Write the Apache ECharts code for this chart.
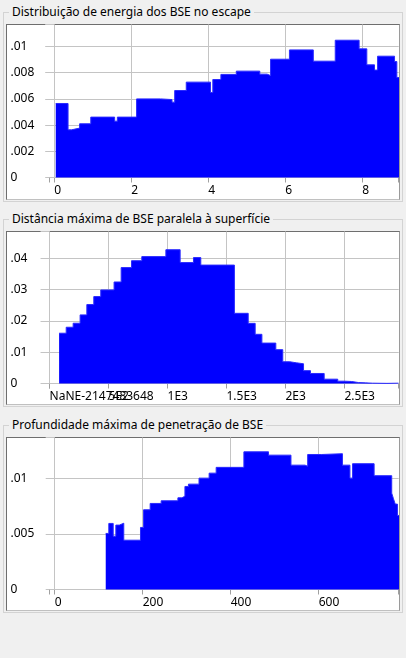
<!DOCTYPE html>
<html>
<head>
<meta charset="utf-8">
<script src="https://cdn.jsdelivr.net/npm/echarts@6/dist/echarts.min.js"></script>
<style>
  html, body { margin: 0; padding: 0; background: #f0f0f0; }
  #wrap { position: relative; width: 406px; height: 658px; background: #f0f0f0; }
  #chart { position: absolute; left: 0; top: 0; width: 406px; height: 658px; }
  .group { position: absolute; left: 3px; width: 400px; box-sizing: border-box; border: 1px solid #d3d3d3; }
  .title {
    position: absolute; left: 9px; padding: 0 3px; background: #f0f0f0;
    font: 12px "Noto Sans"; line-height: 16px; color: #000; white-space: nowrap;
  }
  .frame {
    position: absolute; left: 6px; width: 394px; box-sizing: border-box; background: #fff;
    border-top: 1px solid #6e6e6e; border-left: 1px solid #6e6e6e;
    border-right: 1px solid #9a9a9a; border-bottom: 1px solid #c0c0c0;
  }
</style>
</head>
<body>
<div id="wrap"><div id="chart"></div></div>
<script>
// panel titles
const titles = [
  'Distribuição de energia dos BSE no escape',
  'Distância máxima de BSE paralela à superfície',
  'Profundidade máxima de penetração de BSE'
]

// bin edges (one more than values) and heights
const energyEdges = [0.04, 0.36, 0.45, 0.66, 0.95, 1.57, 1.64, 2.14, 2.76, 3.06, 3.13, 3.43, 4.06, 4.12, 4.33,
  4.73, 5.34, 5.53, 5.62, 6.11, 6.73, 7.30, 7.92, 8.12, 8.32, 8.40, 8.84, 8.90, 9.0]
const energyValues = [0.00565, 0.00364, 0.00377, 0.0041, 0.00461, 0.0043, 0.00461, 0.0060, 0.00595, 0.00575,
  0.00664, 0.00728, 0.00649, 0.00748, 0.00787, 0.00812, 0.00789, 0.00778, 0.00903, 0.00974, 0.00888,
  0.01048, 0.00982, 0.0086, 0.0082, 0.00926, 0.00885, 0.00763]

const distEdges = [81, 141, 200, 259, 316, 375, 434, 547, 607, 695, 782, 986, 1107, 1220, 1282, 1567, 1684,
  1743, 1800, 1918, 1977, 2037, 2093, 2153, 2212, 2328, 2443, 2503, 2560, 2619, 2678, 2737, 2860, 2958]
const distValues = [0.01605, 0.01796, 0.01924, 0.0219, 0.0252, 0.02775, 0.02986, 0.0324, 0.037, 0.0392,
  0.0405, 0.0427, 0.0386, 0.0402, 0.0378, 0.0224, 0.0192, 0.0157, 0.0129, 0.0108, 0.00694, 0.0066,
  0.0063, 0.0041, 0.0032, 0.00138, 0.00074, 0.00064, 0.0003, 0.0002, 0.0001, 0.00004, 0.0001]

const depthEdges = [116, 123, 133, 139, 147, 157, 195, 202, 217, 242, 280, 289, 296, 304, 328, 351, 367, 430,
  486, 537, 569, 575, 607, 654, 671, 677, 726, 766, 770, 774, 779, 790]
const depthValues = [0.00505, 0.00595, 0.0048, 0.0058, 0.00597, 0.00444, 0.00559, 0.00718, 0.00775, 0.00799,
  0.00826, 0.0084, 0.00928, 0.00949, 0.01003, 0.01048, 0.0110, 0.0124, 0.0121, 0.0112, 0.0111, 0.01216,
  0.01223, 0.0112, 0.01003, 0.01133, 0.01025, 0.00868, 0.00817, 0.00769, 0.00667]

// tick values and their labels
const energyTicks = [0, 2, 4, 6, 8]
const energyTickLabels = ['0', '2', '4', '6', '8']
const distTicks = [0, 500, 1000, 1500, 2000, 2500]
const distTickLabels = ['NaNE-2147483648', '5E2', '1E3', '1.5E3', '2E3', '2.5E3']
const depthTicks = [0, 200, 400, 600]
const depthTickLabels = ['0', '200', '400', '600']

const energyYTicks = [0, 0.002, 0.004, 0.006, 0.008, 0.01]
const distYTicks = [0, 0.01, 0.02, 0.03, 0.04]
const depthYTicks = [0, 0.005, 0.01]

const FONT = 'Noto Sans'
const GRID_COLOR = '#c4c4c4'

function stepData(edges, values) {
  const pts = values.map((v, i) => [edges[i], v])
  pts.push([edges[edges.length - 1], values[values.length - 1]])
  return pts
}

function yLabel(v) {
  if (v === 0) return '0'
  return String(+v.toFixed(4)).replace(/^0/, '')
}

// layout of each group box; grid top/left on half pixels so 1px lines stay crisp
const panels = [
  { gTop: 12, gBottom: 202, fTop: 24, fBottom: 200, tY: 12, top: 24.5, height: 153,
    xMin: -0.122, xMax: 8.943, yMax: 0.01168, yInt: 0.002,
    ticks: energyTicks, labels: energyTickLabels, yTicks: energyYTicks, edges: energyEdges, values: energyValues },
  { gTop: 219, gBottom: 407, fTop: 231, fBottom: 405, tY: 218.5, top: 231.5, height: 152,
    xMin: -0.5, xMax: 2958, yMax: 0.04852, yInt: 0.01,
    ticks: distTicks, labels: distTickLabels, yTicks: distYTicks, edges: distEdges, values: distValues },
  { gTop: 425, gBottom: 613, fTop: 437, fBottom: 611, tY: 425, top: 437.5, height: 152,
    xMin: -11.8, xMax: 781.4, yMax: 0.01369, yInt: 0.005,
    ticks: depthTicks, labels: depthTickLabels, yTicks: depthYTicks, edges: depthEdges, values: depthValues }
]

// group boxes and plot frames behind the chart canvas
const wrap = document.getElementById('wrap')
const chartDom = document.getElementById('chart')
panels.forEach((p, i) => {
  const g = document.createElement('div')
  g.className = 'group'
  g.style.top = p.gTop + 'px'
  g.style.height = (p.gBottom - p.gTop) + 'px'
  wrap.insertBefore(g, chartDom)
  const f = document.createElement('div')
  f.className = 'frame'
  f.style.top = p.fTop + 'px'
  f.style.height = (p.fBottom - p.fTop) + 'px'
  wrap.insertBefore(f, chartDom)
  const t = document.createElement('div')
  t.className = 'title'
  t.style.top = (p.tY - 8) + 'px'
  t.textContent = titles[i]
  wrap.insertBefore(t, chartDom)
})

// grid lines as mark lines on an empty series, kept under the histogram
const gridSeries = panels.map((p, i) => ({
  type: 'line',
  xAxisIndex: i,
  yAxisIndex: i,
  z: 1,
  silent: true,
  data: [],
  markLine: {
    z: 1,
    silent: true,
    animation: false,
    symbol: ['none', 'none'],
    label: { show: false },
    emphasis: { disabled: true },
    lineStyle: { color: GRID_COLOR, type: 'solid', width: 1, opacity: 1 },
    data: p.ticks.map(v => ({ xAxis: v }))
      .concat(p.yTicks.map(v => [{ coord: [p.xMin, v] }, { coord: [p.xMax, v] }]))
  }
}))

const histSeries = panels.map((p, i) => ({
  type: 'line',
  xAxisIndex: i,
  yAxisIndex: i,
  step: 'end',
  symbol: 'none',
  silent: true,
  z: 3,
  lineStyle: { color: '#2a2aff', width: 1 },
  itemStyle: { color: '#0000ff' },
  areaStyle: { color: '#0000ff', opacity: 1 },
  data: stepData(p.edges, p.values)
}))

const chart = echarts.init(chartDom)
chart.setOption({
  animation: false,
  backgroundColor: 'transparent',
  textStyle: { fontFamily: FONT },
  grid: panels.map(p => ({ left: 49.5, width: 349, top: p.top, height: p.height })),
  xAxis: panels.map((p, i) => ({
    type: 'value',
    gridIndex: i,
    min: p.xMin,
    max: p.xMax,
    axisLine: { show: false },
    axisTick: { show: true, length: 5, lineStyle: { color: '#a0a0a0' } },
    axisLabel: {
      // empty labels at both ends keep the overlap check away from the real ones
      customValues: [p.xMin].concat(p.ticks, [p.xMax]),
      hideOverlap: false,
      formatter: v => {
        const k = p.ticks.indexOf(v)
        return k < 0 ? '' : p.labels[k]
      },
      align: 'left',
      margin: 7,
      color: '#000',
      fontSize: 12,
      fontFamily: FONT
    },
    splitLine: { show: false }
  })),
  yAxis: panels.map((p, i) => ({
    type: 'value',
    gridIndex: i,
    min: 0,
    max: p.yMax,
    interval: p.yInt,
    axisLine: { show: true, lineStyle: { color: '#808080' } },
    axisTick: { show: true, length: 9, lineStyle: { color: GRID_COLOR } },
    axisLabel: {
      customValues: p.yTicks,
      formatter: yLabel,
      align: 'left',
      margin: 39,
      padding: [3, 0, 0, 0],
      color: '#000',
      fontSize: 12,
      fontFamily: FONT
    },
    splitLine: { show: true, showMaxLine: false, lineStyle: { color: GRID_COLOR, width: 1 } }
  })),
  series: gridSeries.concat(histSeries)
})
</script>
</body>
</html>
